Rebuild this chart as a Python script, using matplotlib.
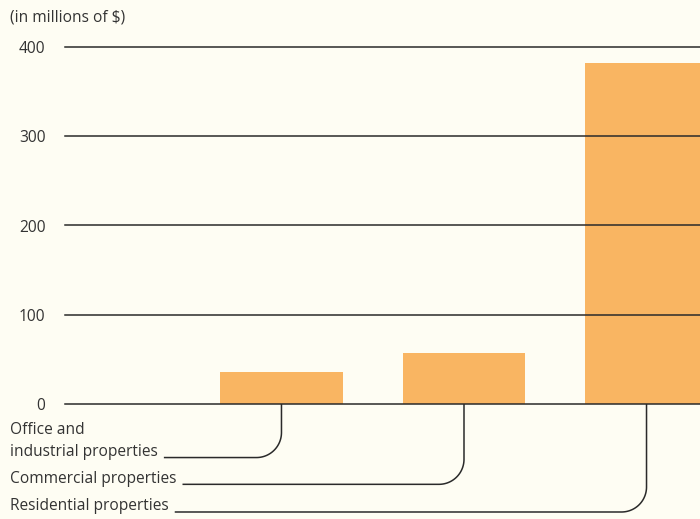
import numpy as np
import matplotlib
matplotlib.use("Agg")
import matplotlib.pyplot as plt

# property categories and values (millions of $)
categories = ["Office and\nindustrial properties", "Commercial properties", "Residential properties"]
values = [36, 57, 382]
yticks = [0, 100, 200, 300, 400]
label_rows = [-60, -90, -121]   # y (data units) where each connector meets its label

bg = "#fefdf3"
bar_color = "#f9b562"
ink = "#2a2a2a"
fs = 11.2

plt.rcParams['font.family'] = ['Open Sans', 'DejaVu Sans']

fig = plt.figure(figsize=(7, 5.19), dpi=100, facecolor=bg)
ax = fig.add_axes([65 / 700, 115 / 519, 635 / 700, 357 / 519])
ax.set_facecolor(bg)
ax.patch.set_alpha(0)
ax.set_xlim(-1.186, 2.293)
ax.set_ylim(0, 400)

x = np.arange(len(values))
ax.bar(x, values, width=0.67, color=bar_color, zorder=1)

# horizontal rules drawn over the bars
for t in yticks:
    ax.axhline(t, color=ink, lw=1.1, zorder=2, clip_on=False)

ax.set_yticks(yticks)
ax.set_yticklabels([str(t) for t in yticks], fontsize=fs, color="#333333")
ax.tick_params(axis="y", length=0, pad=14)
ax.set_xticks([])
for s in ax.spines.values():
    s.set_visible(False)

fig.text(10 / 700, 1 - 17 / 519, "(in millions of $)", fontsize=fs,
         color="#333333", va="center", ha="left")

# labels below the chart, each hooked up to its bar with a rounded leader
label_x = -1.186 - 55 / 182.5
texts = []
for i, cat in enumerate(categories):
    t = ax.text(label_x, label_rows[i] + 2, cat, fontsize=fs, color="#333333",
                ha="left", va="baseline", linespacing=1.5, clip_on=False)
    texts.append(t)

fig.canvas.draw()
renderer = fig.canvas.get_renderer()
inv = ax.transData.inverted()

rx = 25 / 182.5
ry = 25 / 0.8925
for i, t in enumerate(texts):
    bb = t.get_window_extent(renderer)
    x_start = inv.transform((bb.x1 + 6, 0))[0]
    cx = x[i]
    yr = label_rows[i]
    th = np.linspace(0, np.pi / 2, 30)
    arc_x = cx - rx + rx * np.cos(th)
    arc_y = yr + ry - ry * np.sin(th)
    px = np.concatenate([[cx], arc_x, [x_start]])
    py = np.concatenate([[0], arc_y, [yr]])
    ax.plot(px, py, color=ink, lw=1.1, clip_on=False, solid_capstyle="butt")

fig.savefig("out.png", dpi=100, facecolor=bg)
